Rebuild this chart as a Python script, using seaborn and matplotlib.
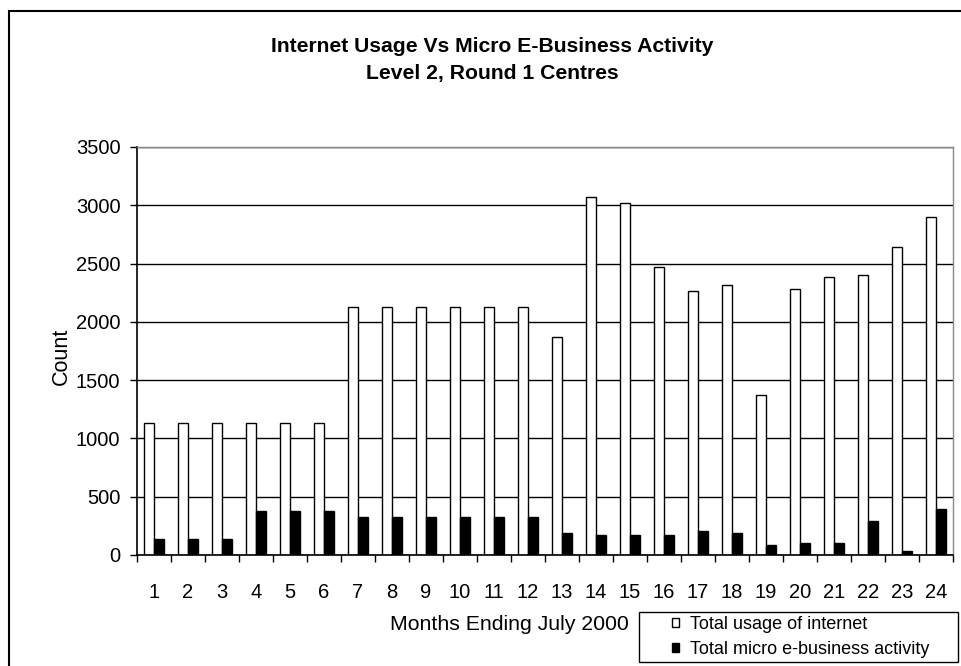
import matplotlib
matplotlib.use("Agg")
import matplotlib.pyplot as plt
import seaborn as sns
import pandas as pd
from matplotlib.patches import Rectangle
from matplotlib.ticker import FixedLocator, NullFormatter

months = [str(i) for i in range(1, 25)]
usage = [1130, 1130, 1130, 1130, 1130, 1130, 2125, 2125, 2125, 2125, 2125, 2125,
         1867, 3070, 3021, 2469, 2263, 2314, 1369, 2280, 2386, 2400, 2641, 2898]
ebiz = [137, 137, 137, 378, 378, 378, 326, 326, 326, 326, 326, 326,
        189, 172, 172, 172, 206, 189, 86, 103, 103, 292, 34, 395]
series_names = ["Total usage of internet", "Total micro e-business activity"]
yticks = [0, 500, 1000, 1500, 2000, 2500, 3000, 3500]

df = pd.DataFrame({
    "Month": months * 2,
    "Count": usage + ebiz,
    "Series": [series_names[0]] * len(months) + [series_names[1]] * len(months),
})

sns.set_theme(style="white")
plt.rcParams["font.family"] = ["Liberation Sans", "DejaVu Sans"]

W, H = 961, 666
fig = plt.figure(figsize=(W / 100, H / 100), dpi=100)
fig.patch.set_facecolor("white")
ax = fig.add_axes([137 / W, 1 - 555 / H, 816 / W, 408 / H])

sns.barplot(data=df, x="Month", y="Count", hue="Series", order=months,
            hue_order=series_names, palette=["white", "black"],
            edgecolor="black", linewidth=1.0, width=0.6, saturation=1,
            ax=ax, legend=True)

ax.set_xlim(-0.5, len(months) - 0.5)
ax.set_ylim(0, 3500)
ax.set_yticks(yticks)
ax.set_yticklabels([str(v) for v in yticks])
ax.set_axisbelow(True)
ax.yaxis.grid(True, color="black", linewidth=1.0)
ax.xaxis.grid(False)

ax.tick_params(axis="x", which="major", length=0, labelsize=14.5, pad=20,
               labelcolor="black")
ax.xaxis.set_minor_locator(FixedLocator([i - 0.5 for i in range(len(months) + 1)]))
ax.xaxis.set_minor_formatter(NullFormatter())
ax.tick_params(axis="x", which="minor", bottom=True, length=5, width=1, color="black")
ax.tick_params(axis="y", which="major", left=True, length=5, width=1, color="black",
               labelsize=14.5, labelcolor="black", pad=7)

for s in ["left", "bottom"]:
    ax.spines[s].set_color("black")
    ax.spines[s].set_linewidth(1.2)
for s in ["top", "right"]:
    ax.spines[s].set_color("#888888")
    ax.spines[s].set_linewidth(1.0)

ax.set_xlabel("")
ax.set_ylabel("")
fig.text(61.5 / W, 1 - 356 / H, "Count", rotation=90, ha="center", va="center",
         fontsize=15.5, color="black")
fig.text(509 / W, 1 - 625 / H, "Months Ending July 2000", ha="center", va="center",
         fontsize=15.3, color="black")

fig.text(492 / W, 1 - 47 / H, "Internet Usage Vs Micro E-Business Activity",
         ha="center", va="center", fontsize=15.2, fontweight="bold", color="black")
fig.text(492 / W, 1 - 74 / H, "Level 2, Round 1 Centres",
         ha="center", va="center", fontsize=15.2, fontweight="bold", color="black")

# legend
handles, labels = ax.get_legend_handles_labels()
ax.get_legend().remove()
leg = fig.legend(handles, labels, loc="center left",
                 bbox_to_anchor=(672 / W, 1 - 637 / H),
                 frameon=False, fontsize=13, handlelength=0.4,
                 handleheight=0.4, handletextpad=0.6, borderaxespad=0,
                 labelspacing=0.45, borderpad=0)
for t in leg.get_texts():
    t.set_color("black")
fig.patches.append(Rectangle((639 / W, 1 - 662 / H), 319 / W, 50 / H,
                             transform=fig.transFigure, fill=False,
                             edgecolor="black", linewidth=1.0, zorder=0))

# chart outer border
fig.patches.append(Rectangle((9 / W, -0.05), 1.1, 1 - 11 / H + 0.05,
                             transform=fig.transFigure, fill=False,
                             edgecolor="black", linewidth=1.5))

fig.savefig("out.png", dpi=100, facecolor="white")
